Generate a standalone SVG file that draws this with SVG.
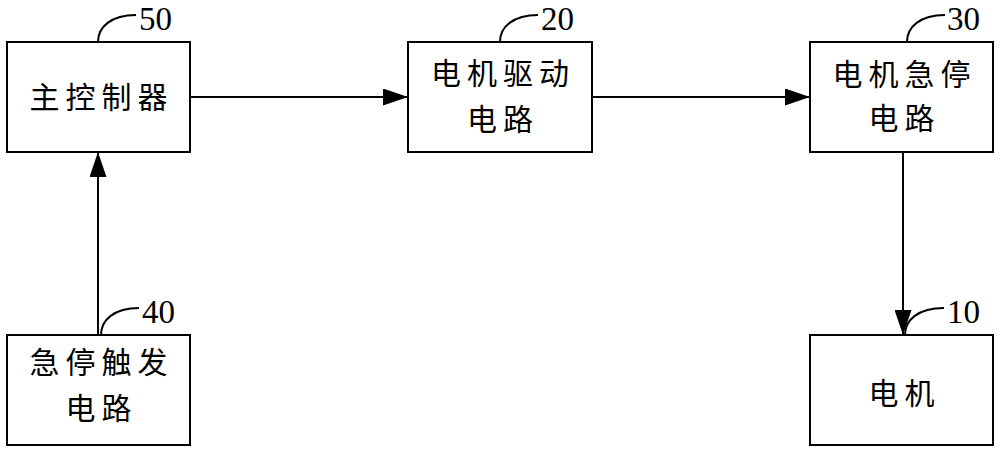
<svg xmlns="http://www.w3.org/2000/svg" width="1000" height="452" viewBox="0 0 1000 452">
<style>
.box{fill:#fff;stroke:#000;stroke-width:2}
.t{font-family:"Noto Sans CJK SC","Noto Sans CJK JP",sans-serif;font-size:30px;letter-spacing:6px;fill:#000;text-anchor:middle}
.n{font-family:"Liberation Serif",serif;font-size:33px;fill:#000}
.lead{fill:none;stroke:#000;stroke-width:2}
.conn{fill:none;stroke:#000;stroke-width:2;marker-end:url(#ah)}
</style>
<defs>
<marker id="ah" markerWidth="25" markerHeight="17" refX="25" refY="8.5" orient="auto" markerUnits="userSpaceOnUse">
<path d="M0,0 L25,8.5 L0,17 Z" fill="#000"/>
</marker>
</defs>
<rect width="1000" height="452" fill="#fff"/>
<g id="connectors">
<path class="conn" d="M190,97 L408,97"/>
<path class="conn" d="M592,97 L810,97"/>
<path class="conn" d="M98,335 L98,152"/>
<path class="conn" d="M903,152 L903,335"/>
</g>
<g id="n50">
<rect class="box" x="7" y="42" width="183" height="110"/>
<text class="t" x="101.5" y="108">主控制器</text>
<path class="lead" d="M98,42 C98,27 111,15 136,15"/>
<text class="n" x="139" y="30">50</text>
</g>
<g id="n20">
<rect class="box" x="408" y="42" width="184" height="110"/>
<text class="t" x="503" y="84">电机驱动</text>
<text class="t" x="503" y="130">电路</text>
<path class="lead" d="M500,42 C500,27 513,15 538,15"/>
<text class="n" x="541" y="30">20</text>
</g>
<g id="n30">
<rect class="box" x="810" y="42" width="183" height="110"/>
<text class="t" x="904.5" y="85">电机急停</text>
<text class="t" x="904.5" y="129">电路</text>
<path class="lead" d="M907,42 C907,27 920,15 945,15"/>
<text class="n" x="947" y="30">30</text>
</g>
<g id="n40">
<rect class="box" x="7" y="335" width="183" height="110"/>
<text class="t" x="101.5" y="373">急停触发</text>
<text class="t" x="101.5" y="419">电路</text>
<path class="lead" d="M101,335 C101,320 114,308 139,308"/>
<text class="n" x="142" y="323">40</text>
</g>
<g id="n10">
<rect class="box" x="810" y="335" width="183" height="110"/>
<text class="t" x="904.5" y="404">电机</text>
<path class="lead" d="M905,335 C905,320 918,308 944,308"/>
<text class="n" x="947" y="323">10</text>
</g>
</svg>
